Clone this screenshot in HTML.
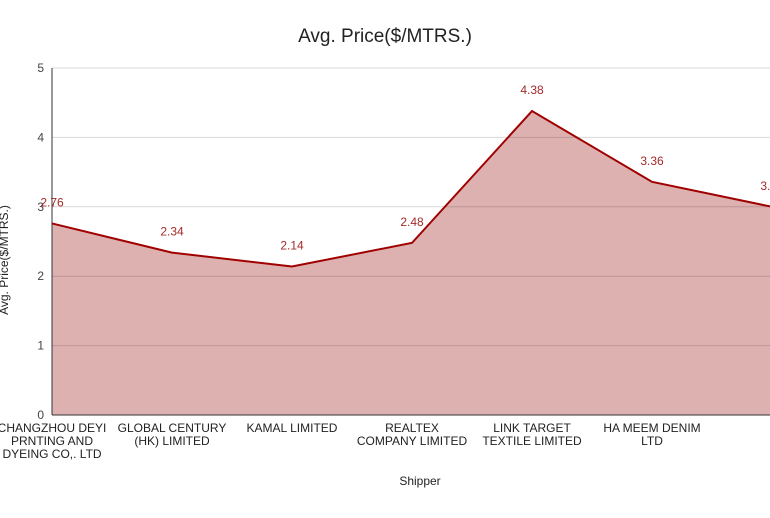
<!DOCTYPE html>
<html><head><meta charset="utf-8"><style>
body{margin:0;background:#fff;font-family:"Liberation Sans",sans-serif}
svg text{font-family:"Liberation Sans",sans-serif}
</style></head><body>
<svg id="c" width="770" height="513" viewBox="0 0 770 513">
<rect width="770" height="513" fill="#fff"/>
<text x="385" y="42" text-anchor="middle" font-size="19" fill="#222">Avg. Price($/MTRS.)</text>
<text x="420" y="485" text-anchor="middle" font-size="12" fill="#222">Shipper</text>
<text transform="translate(8,260) rotate(-90)" text-anchor="middle" font-size="12" fill="#222">Avg. Price($/MTRS.)</text>
<g id="grid"></g><g id="area"></g><g id="labels"></g>
</svg>
<script>
const categories=["CHANGZHOU DEYI|PRNTING AND|DYEING CO,. LTD","GLOBAL CENTURY|(HK) LIMITED","KAMAL LIMITED","REALTEX|COMPANY LIMITED","LINK TARGET|TEXTILE LIMITED","HA MEEM DENIM|LTD",""];
const values=[2.76,2.34,2.14,2.48,4.38,3.36,3.00];
const valueLabels=["2.76","2.34","2.14","2.48","4.38","3.36","3.00"];
const yTicks=[0,1,2,3,4,5];
const NS="http://www.w3.org/2000/svg";
const x0=52,step=120,yb=415,yt=68,ymax=5;
const X=i=>x0+i*step, Y=v=>yb-(v/ymax)*(yb-yt);
function mk(t,a,p){const e=document.createElementNS(NS,t);for(const k in a)e.setAttribute(k,a[k]);p.appendChild(e);return e;}
const grid=document.getElementById('grid'),area=document.getElementById('area'),lab=document.getElementById('labels');
let d=`M${X(0)},${Y(0)}`;values.forEach((v,i)=>d+=`L${X(i)},${Y(v)}`);d+=`L${X(values.length-1)},${Y(0)}Z`;
const a=mk('path',{d,fill:'#deb1b1'},area);


yTicks.forEach(t=>{
 const l=mk('line',{x1:x0,x2:770,y1:Y(t),y2:Y(t),stroke:t===0?'#333':'rgba(0,0,0,0.15)','stroke-width':1},lab);
 
 
 const tx=mk('text',{x:44,y:Y(t)+4,'text-anchor':'end','font-size':12,fill:'#444'},lab);tx.textContent=t;
 
 
});
const ax=mk('line',{x1:x0,x2:x0,y1:yt,y2:yb,stroke:'#333'},lab);


let ld='';values.forEach((v,i)=>ld+=(i?'L':'M')+X(i)+','+Y(v));
const ln=mk('path',{d:ld,fill:'none',stroke:'#a00000','stroke-width':2},lab);


values.forEach((v,i)=>{
 const t=mk('text',{x:X(i),y:Y(v)-17,'text-anchor':'middle','font-size':12,fill:'#a52a2a'},lab);t.textContent=valueLabels[i];
 
 
});
categories.forEach((c,i)=>{
 const t=mk('text',{'text-anchor':'middle','font-size':12,fill:'#222'},lab);
 
 
 c.split('|').forEach((s,j)=>{const sp=mk('tspan',{x:X(i),y:432+j*13},t);sp.textContent=s;});
});
</script>
</body></html>
